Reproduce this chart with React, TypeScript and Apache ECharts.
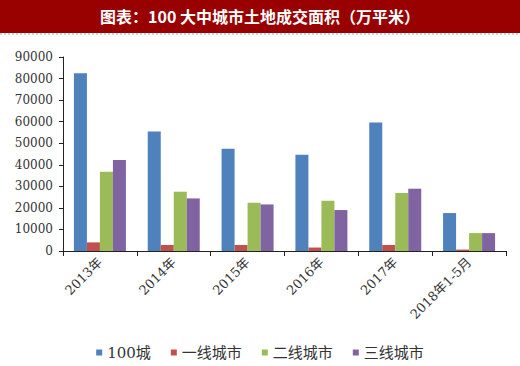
import React, { useEffect, useRef } from "react";
import * as echarts from "echarts";

const categories = ["2013年", "2014年", "2015年", "2016年", "2017年", "2018年1-5月"];
const city100 = [82500, 55400, 47400, 44700, 59600, 17600];
const tier1 = [4000, 2800, 2800, 1600, 2800, 650];
const tier2 = [36800, 27500, 22400, 23300, 26900, 8300];
const tier3 = [42200, 24400, 21600, 19000, 28900, 8300];
const seriesNames = ["100城", "一线城市", "二线城市", "三线城市"];
const colors = ["#4F81BD", "#C0504D", "#9BBB59", "#8064A2"];
const titleText = "图表：100 大中城市土地成交面积（万平米）";

const serif = "'DejaVu Serif', 'Noto Sans CJK SC', serif";

export default function App() {
  const ref = useRef<HTMLDivElement>(null);
  useEffect(() => {
    if (!ref.current) return;
    const chart = echarts.init(ref.current, undefined, { renderer: "svg" });
    const data = [city100, tier1, tier2, tier3];
    chart.setOption({
      animation: false,
      backgroundColor: "#ffffff",
      graphic: [
        { type: "rect", left: 0, top: 0, shape: { width: 520, height: 33 }, style: { fill: "#990000" } },
        {
          type: "line",
          shape: { x1: 0, y1: 34, x2: 520, y2: 34 },
          style: { stroke: "#8FA6D6", lineWidth: 1, lineDash: [2, 2] },
        },
        {
          type: "text",
          left: "center",
          top: 8,
          style: {
            text: titleText,
            fill: "#ffffff",
            font: "bold 16px 'Noto Sans CJK SC', sans-serif",
          },
        },
      ],
      grid: { left: 63, right: 14, top: 57, bottom: 115 },
      legend: {
        data: seriesNames,
        top: 340,
        left: "center",
        icon: "rect",
        itemWidth: 6,
        itemHeight: 6,
        itemGap: 20,
        textStyle: { fontFamily: serif, fontSize: 15, color: "#333333" },
      },
      xAxis: {
        type: "category",
        data: categories,
        axisLine: { lineStyle: { color: "#222222", width: 1 } },
        axisTick: { show: true, length: 5, lineStyle: { color: "#222222" } },
        axisLabel: {
          rotate: 45,
          interval: 0,
          margin: 9,
          fontFamily: serif,
          fontSize: 13,
          color: "#333333",
        },
      },
      yAxis: {
        type: "value",
        min: 0,
        max: 90000,
        interval: 10000,
        splitLine: { show: false },
        axisLine: { show: true, lineStyle: { color: "#222222", width: 1 } },
        axisTick: { show: true, length: 4, lineStyle: { color: "#222222" } },
        axisLabel: {
          fontFamily: serif,
          fontSize: 12,
          color: "#333333",
          margin: 10,
          formatter: (v: number) => String(v),
        },
      },
      series: seriesNames.map((name, i) => ({
        name,
        type: "bar",
        data: data[i],
        barWidth: 13,
        barGap: "0%",
        itemStyle: { color: colors[i] },
      })),
    });
    return () => chart.dispose();
  }, []);
  return (
    <div
      ref={ref}
      style={{ position: "fixed", left: 0, top: 0, width: 520, height: 366 }}
    />
  );
}
